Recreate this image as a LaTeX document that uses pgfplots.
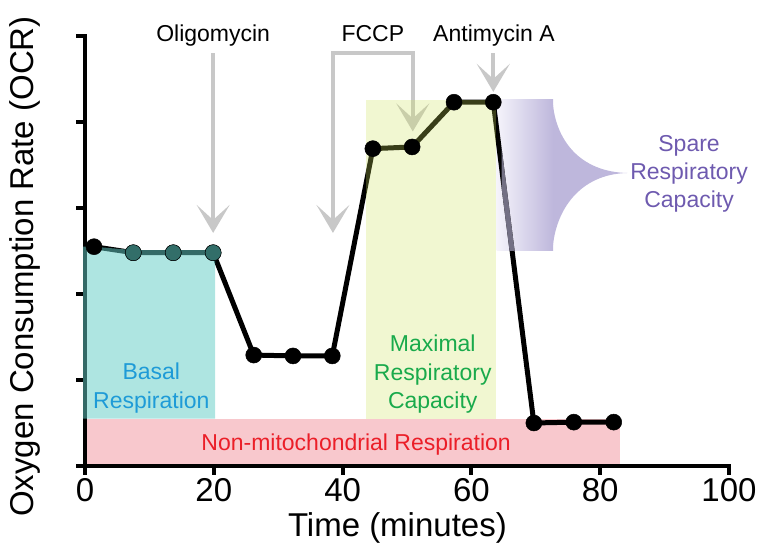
\documentclass[border=0pt]{standalone}
\usepackage{pgfplots}
\pgfplotsset{compat=1.18}
\usepackage{pgfplotstable}
\usepackage{fontspec}
\setmainfont{Liberation Sans}
\usetikzlibrary{arrows.meta}
\definecolor{tealfill}{RGB}{100,205,198}
\definecolor{darkteal}{RGB}{50,110,105}
\definecolor{yelfill}{RGB}{205,225,90}
\definecolor{pinkfill}{RGB}{248,200,205}
\definecolor{purpleL}{RGB}{245,244,251}
\definecolor{purpleR}{RGB}{190,183,220}
\definecolor{linegray}{RGB}{115,112,132}
\definecolor{arrowgray}{RGB}{200,200,200}
\definecolor{basalblue}{RGB}{30,155,215}
\definecolor{maxgreen}{RGB}{25,170,75}
\definecolor{nonred}{RGB}{235,30,40}
\definecolor{sparepurple}{RGB}{110,90,175}

\pgfplotstableread{
x y
1.4 2.55
7.5 2.48
13.7 2.48
19.9 2.48
26.2 1.29
32.3 1.28
38.4 1.28
44.7 3.69
50.8 3.71
57.3 4.23
63.4 4.23
69.7 0.50
75.9 0.51
82.1 0.51
}\ocrdata

\tikzset{grayarrow/.style={arrowgray, line width=4bp,
  -{Stealth[length=28bp,width=33bp,inset=15bp]}},
  annot/.style={font=\fontsize{23bp}{28bp}\selectfont, anchor=base, inner sep=0pt}}

\begin{document}
\begin{tikzpicture}
\begin{axis}[
  set layers,
  width=644bp, height=430bp, scale only axis,
  xmin=0, xmax=100, ymin=0, ymax=5,
  axis lines*=left,
  axis line style={-, line width=4bp, line cap=rect},
  clip=false,
  xtick={0,20,...,100}, ytick={0,1,...,5}, yticklabels={\mbox{},\mbox{},\mbox{},\mbox{},\mbox{},\mbox{}},
  tick align=outside,
  major tick length=9bp,
  every tick/.style={line width=4bp, black},
  tick label style={font=\fontsize{33bp}{33bp}\selectfont},
  /pgf/number format/assume math mode=true,
  xlabel={Time (minutes)}, ylabel={Oxygen Consumption Rate (OCR)},
  label style={font=\fontsize{33bp}{36bp}\selectfont, inner sep=0pt},
  xlabel style={at={(axis description cs:0.4851,-0.1651)}, anchor=base},
  ylabel style={at={(axis description cs:-0.0807,0.464)}, anchor=base},
]
% non-mitochondrial respiration
\addplot[draw=none, fill=pinkfill] coordinates {(0.32,0.024) (83,0.024) (83,0.55) (0.32,0.55)} -- cycle;
% spare respiratory capacity (under the trace)
\fill[purpleR] (axis cs:72.6,4.256) .. controls (axis cs:72.98,3.79) and (axis cs:76.86,3.42) .. (axis cs:84.2,3.407)
  .. controls (axis cs:76.86,3.395) and (axis cs:72.98,2.977) .. (axis cs:72.6,2.51) -- cycle;
\shade[left color=purpleL, right color=purpleR] (axis cs:63.9,2.51) rectangle (axis cs:72.7,4.256);
% injection arrows
\draw[grayarrow] (axis cs:19.9,4.80) -- (axis cs:19.9,2.71);
\draw[grayarrow, {Stealth[length=28bp,width=33bp,inset=15bp]}-{Stealth[length=28bp,width=33bp,inset=15bp]}] (axis cs:38.5,2.71) -- (axis cs:38.5,4.80) -- (axis cs:50.9,4.80) -- (axis cs:50.9,3.89);
\draw[grayarrow] (axis cs:63.4,4.80) -- (axis cs:63.4,4.35);
% OCR trace
\addplot[black, line width=5bp, mark=*, mark size=8bp, mark options={solid, fill=black, line width=0.5bp}] table {\ocrdata};
% trace seen through the spare-capacity band
\begin{scope}
\clip (axis cs:64.7,2.51) rectangle (axis cs:72.7,4.256);
\addplot[linegray, line width=5bp, no marks] table {\ocrdata};
\end{scope}
% basal respiration
\addplot[draw=none, fill=tealfill, fill opacity=0.52] coordinates {(-0.3,0.55) (-0.3,2.55) (1.4,2.55) (7.5,2.51) (20.2,2.51) (20.2,0.55)} -- cycle;
\addplot[only marks, mark=*, mark size=8bp, mark options={draw=none, fill=darkteal}] coordinates {(7.5,2.48) (13.7,2.48) (19.9,2.48)};
% maximal respiratory capacity
\addplot[draw=none, fill=yelfill, fill opacity=0.28] coordinates {(43.7,0.55) (43.7,4.25) (63.8,4.25) (63.8,0.55)} -- cycle;
% labels
\node[annot] at (axis cs:19.9,4.936) {Oligomycin};
\node[annot] at (axis cs:44.7,4.936) {FCCP};
\node[annot] at (axis cs:63.5,4.936) {Antimycin A};
\node[annot, text=basalblue] at (axis cs:10.3,1.0) {Basal};
\node[annot, text=basalblue] at (axis cs:10.3,0.674) {Respiration};
\node[annot, text=maxgreen] at (axis cs:54.0,1.329) {Maximal};
\node[annot, text=maxgreen] at (axis cs:54.0,0.992) {Respiratory};
\node[annot, text=maxgreen] at (axis cs:54.0,0.674) {Capacity};
\node[annot, text=nonred] at (axis cs:42.1,0.186) {Non-mitochondrial Respiration};
\node[annot, text=sparepurple] at (axis cs:93.8,3.655) {Spare};
\node[annot, text=sparepurple] at (axis cs:93.8,3.326) {Respiratory};
\node[annot, text=sparepurple] at (axis cs:93.8,3.0) {Capacity};
\end{axis}
\pgfresetboundingbox
\useasboundingbox (-85bp,-82bp) rectangle (674bp,466bp);
\end{tikzpicture}
\end{document}
